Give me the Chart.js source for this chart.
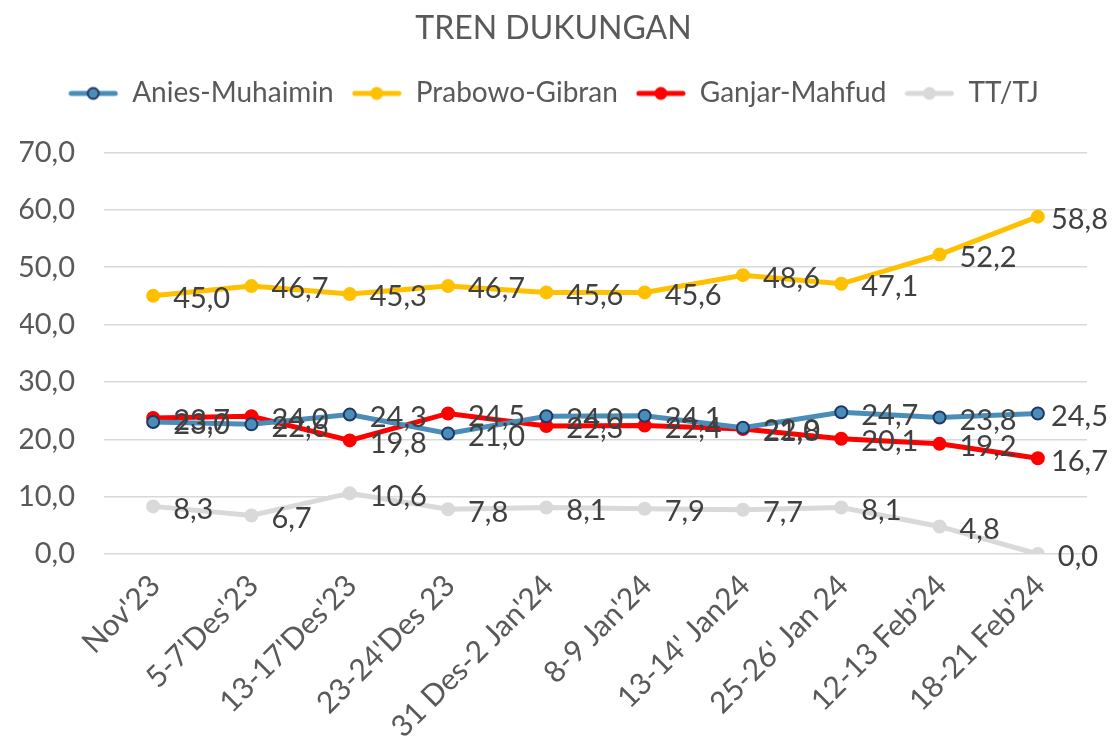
<!DOCTYPE html>
<html>
<head>
<meta charset="utf-8">
<script src="https://cdn.jsdelivr.net/npm/chart.js@4"></script>
<style>
  html, body { margin: 0; padding: 0; background: #fff; }
  #wrap { width: 1112px; height: 747px; }
</style>
</head>
<body>
<div id="wrap"><canvas id="myChart" width="1112" height="747"></canvas></div>
<script>
// categories and values
const labels = ["Nov'23", "5-7'Des'23", "13-17'Des'23", "23-24'Des 23", "31 Des-2 Jan'24",
  "8-9 Jan'24", "13-14' Jan24", "25-26' Jan 24", "12-13 Feb'24", "18-21 Feb'24"];

const aniesMuhaimin = [23.0, 22.6, 24.3, 21.0, 24.0, 24.1, 22.0, 24.7, 23.8, 24.5];
const prabowoGibran = [45.0, 46.7, 45.3, 46.7, 45.6, 45.6, 48.6, 47.1, 52.2, 58.8];
const ganjarMahfud  = [23.7, 24.0, 19.8, 24.5, 22.3, 22.4, 21.8, 20.1, 19.2, 16.7];
const ttTj          = [8.3, 6.7, 10.6, 7.8, 8.1, 7.9, 7.7, 8.1, 4.8, 0.0];

const yTicks = [0, 10, 20, 30, 40, 50, 60, 70];

const FONT = 'Lato, "DejaVu Sans", sans-serif';
const fmt = v => v.toFixed(1).replace('.', ',');

// legend symbol: a short thick line with a dot in the middle
function legendSymbol(lineColor, fill, border) {
  const c = document.createElement('canvas');
  c.width = 50; c.height = 16;
  const g = c.getContext('2d');
  g.strokeStyle = lineColor;
  g.lineWidth = 5;
  g.lineCap = 'round';
  g.beginPath(); g.moveTo(3, 8); g.lineTo(47, 8); g.stroke();
  g.fillStyle = fill;
  g.strokeStyle = border;
  g.lineWidth = 2;
  g.beginPath(); g.arc(25, 8, 5.5, 0, Math.PI * 2); g.fill(); g.stroke();
  return c;
}

// value labels to the right of each point (pulled in at the right edge)
const valueLabels = {
  id: 'valueLabels',
  afterDatasetsDraw(chart) {
    const ctx = chart.ctx;
    ctx.save();
    ctx.font = '29px ' + FONT;
    ctx.fillStyle = '#404040';
    ctx.textAlign = 'left';
    ctx.textBaseline = 'middle';
    chart.data.datasets.forEach((ds, i) => {
      chart.getDatasetMeta(i).data.forEach((pt, j) => {
        const txt = fmt(ds.data[j]);
        const w = ctx.measureText(txt).width;
        const x = Math.min(pt.x + 20, chart.width - 4 - w);
        ctx.fillText(txt, x, pt.y + 3);
      });
    });
    ctx.restore();
  }
};

// fixed legend box height so the plot starts where the original does
const legendGap = {
  id: 'legendGap',
  beforeInit(chart) {
    const fit = chart.legend.fit;
    chart.legend.fit = function () {
      fit.bind(chart.legend)();
      this.height = 91;
    };
  }
};

function series(label, data, color, pointFill, pointBorder) {
  return {
    label: label,
    data: data,
    borderColor: color,
    backgroundColor: pointFill,
    borderWidth: 5,
    pointRadius: 6,
    pointHoverRadius: 6,
    pointBackgroundColor: pointFill,
    pointBorderColor: pointBorder,
    pointBorderWidth: 2,
    pointStyle: 'circle',
    tension: 0
  };
}

const ctx = document.getElementById('myChart');

new Chart(ctx, {
  type: 'line',
  data: {
    labels: labels,
    datasets: [
      series('Anies-Muhaimin', aniesMuhaimin, '#4A8DB9', '#4A8DB9', '#1F3864'),
      series('Prabowo-Gibran', prabowoGibran, '#FFC000', '#FFC000', '#FFC000'),
      series('Ganjar-Mahfud', ganjarMahfud, '#FF0000', '#FF0000', '#FF0000'),
      series('TT/TJ', ttTj, '#D9D9D9', '#D9D9D9', '#D9D9D9')
    ]
  },
  options: {
    responsive: false,
    animation: false,
    layout: { padding: { left: 20, right: 25, top: 9, bottom: 0 } },
    plugins: {
      title: {
        display: true,
        text: 'TREN DUKUNGAN',
        color: '#595959',
        font: { family: FONT, size: 32, weight: 'normal' },
        padding: { top: 0, bottom: 14 }
      },
      legend: {
        display: true,
        position: 'top',
        labels: {
          color: '#595959',
          font: { family: FONT, size: 28 },
          usePointStyle: true,
          pointStyleWidth: 50,
          boxHeight: 16,
          padding: 18,
          generateLabels(chart) {
            const cols = [['#4A8DB9', '#4A8DB9', '#1F3864'], ['#FFC000', '#FFC000', '#FFC000'],
              ['#FF0000', '#FF0000', '#FF0000'], ['#D9D9D9', '#D9D9D9', '#D9D9D9']];
            return chart.data.datasets.map((ds, i) => ({
              text: ds.label,
              fontColor: '#595959',
              pointStyle: legendSymbol(cols[i][0], cols[i][1], cols[i][2]),
              datasetIndex: i,
              lineWidth: 0,
              hidden: false
            }));
          }
        }
      },
      tooltip: { enabled: false }
    },
    scales: {
      x: {
        offset: true,
        grid: { display: false },
        border: { display: false },
        afterFit(scale) { scale.paddingLeft = 0; scale.paddingRight = 0; scale.height = 193; },
        ticks: {
          color: '#595959',
          font: { family: FONT, size: 30, lineHeight: 1 },
          minRotation: 45,
          maxRotation: 45,
          padding: 8,
          labelOffset: 2,
          autoSkip: false
        }
      },
      y: {
        min: 0,
        max: 70,
        afterBuildTicks(axis) { axis.ticks = yTicks.map(v => ({ value: v })); },
        afterFit(scale) { scale.width = 84; },
        grid: { color: '#D9D9D9', lineWidth: 1.5, drawTicks: false },
        border: { display: false },
        ticks: {
          color: '#595959',
          font: { family: FONT, size: 29 },
          padding: 29,
          callback: v => fmt(v)
        }
      }
    }
  },
  plugins: [valueLabels, legendGap]
});
</script>
</body>
</html>
